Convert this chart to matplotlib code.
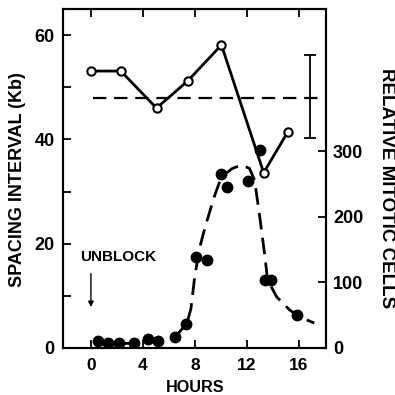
import matplotlib
matplotlib.use("Agg")
import matplotlib.pyplot as plt

plt.rcParams["font.family"] = ["Liberation Sans", "DejaVu Sans"]
plt.rcParams["font.weight"] = "bold"

# Spacing interval (Kb), open circles, left axis
spacing_hours = [0.0, 2.3, 5.05, 7.45, 10.05, 13.3, 15.15]
spacing_kb = [53.1, 53.1, 46.0, 51.2, 58.1, 33.6, 41.4]
spacing_mean = 48.0
spacing_mean_span = [0.15, 17.6]
errbar_hour = 16.9
errbar_low, errbar_high = 40.2, 56.2

# Relative mitotic cells, filled dots, right axis
mitotic_hours = [0.55, 1.3, 2.2, 3.3, 4.4, 5.2, 6.45, 7.3, 8.1, 8.9,
                 10.05, 10.5, 12.1, 13.0, 13.4, 13.9, 15.9]
mitotic_cells = [11, 7, 7, 7, 13, 11, 17, 37, 139, 134,
                 266, 246, 254, 302, 104, 104, 50]

# Hand-drawn fit curve
curve_hours = [0.5, 1.5, 2.5, 3.5, 4.5, 5.5, 6.1, 6.8, 7.4, 7.7, 8.0,
               8.4, 8.8, 9.5, 10.05, 10.9, 11.6, 12.2, 12.6, 13.0, 13.4,
               13.6, 14.3, 15.3, 15.9, 16.6, 17.2]
curve_cells = [9, 8, 7, 7, 9, 11, 15, 24, 38, 60, 110,
               155, 185, 231, 261, 274, 279, 274, 256, 200, 139,
               104, 78, 58, 50, 43, 38]

x_ticks = [0, 4, 8, 12, 16]
left_ticks = [0, 20, 40, 60]
left_minor = [10, 30, 50]
right_ticks = [0, 100, 200, 300]

fig = plt.figure(figsize=(3.95, 3.95), dpi=100)
ax = fig.add_axes([63 / 395, 47 / 395, 263 / 395, 339 / 395])
ax2 = ax.twinx()

ax.set_xlim(-2.15, 18.1)
ax.set_ylim(0, 65)
ax2.set_ylim(0, 517)

# left-axis series
ax.plot(spacing_hours, spacing_kb, color="black", lw=2.0, marker="o",
        markersize=6, markerfacecolor="white", markeredgecolor="black",
        markeredgewidth=1.5, zorder=4)
ax.plot(spacing_mean_span, [spacing_mean, spacing_mean], color="black",
        lw=1.6, dashes=(6, 3.5), zorder=3)
ax.errorbar([errbar_hour], [(errbar_low + errbar_high) / 2],
            yerr=[[(errbar_high - errbar_low) / 2]], color="black",
            lw=1.3, capsize=4, capthick=1.3, fmt="none")

# right-axis series
ax2.plot(curve_hours, curve_cells, color="black", lw=2.0, dashes=(6, 3),
         zorder=2)
ax2.plot(mitotic_hours, mitotic_cells, "o", color="black", markersize=7.5,
         zorder=3)

# axes styling
for a in (ax, ax2):
    for spine in a.spines.values():
        spine.set_linewidth(1.5)
ax.set_xticks(x_ticks)
ax.set_yticks(left_ticks)
ax.set_yticks(left_minor, minor=True)
ax.tick_params(axis="x", which="both", direction="in", length=6, width=1.3,
               top=True, labelsize=12.5, pad=7)
ax.tick_params(axis="y", which="major", direction="in", length=6, width=1.3,
               labelsize=13, pad=6)
ax.tick_params(axis="y", which="minor", direction="in", length=6, width=1.3)
ax2.set_yticks(right_ticks)
ax2.tick_params(axis="y", direction="in", length=6, width=1.3,
                labelsize=13, pad=5)

# annotation
ax.text(-0.85, 17.5, "UNBLOCK", ha="left", va="center", fontsize=11)
ax.annotate("", xy=(0.0, 7.3), xytext=(0.0, 14.8),
            arrowprops=dict(arrowstyle="-|>", color="black", lw=1.0,
                            mutation_scale=8))

fig.text(18 / 395, 1 - 180 / 395, "SPACING INTERVAL (Kb)", rotation=90,
         ha="center", va="center", fontsize=13)
fig.text(386 / 395, 1 - 188 / 395, "RELATIVE MITOTIC CELLS", rotation=270,
         ha="center", va="center", fontsize=13.5)
fig.text(195 / 395, 1 - 387 / 395, "HOURS", ha="center", va="center",
         fontsize=11.7)

fig.savefig("out.png", dpi=100, facecolor="white")
